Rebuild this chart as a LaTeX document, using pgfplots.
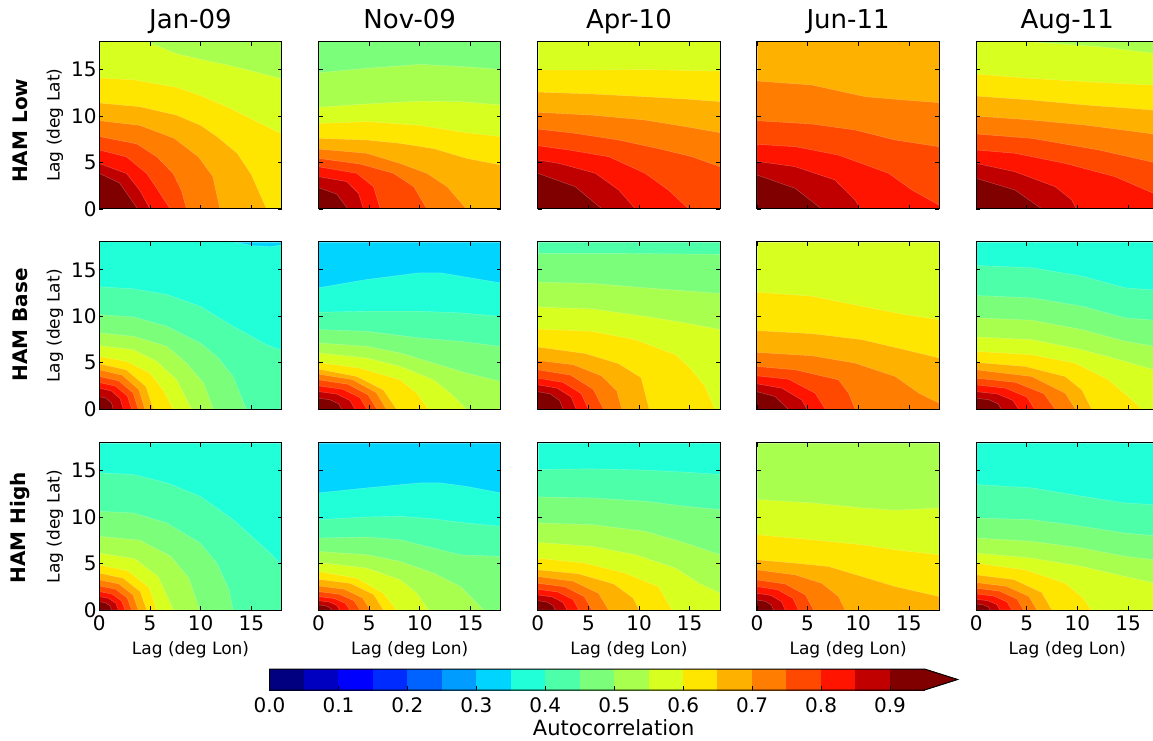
\documentclass[border=0pt]{standalone}
\usepackage{fontspec}
\setmainfont{DejaVu Sans}
\usepackage{pgfplots}
\pgfplotsset{compat=1.18}
\definecolor{c0}{RGB}{0,0,128}
\definecolor{c1}{RGB}{0,0,192}
\definecolor{c2}{RGB}{0,0,255}
\definecolor{c3}{RGB}{0,43,255}
\definecolor{c4}{RGB}{0,99,255}
\definecolor{c5}{RGB}{0,156,255}
\definecolor{c6}{RGB}{0,212,255}
\definecolor{c7}{RGB}{32,255,215}
\definecolor{c8}{RGB}{78,255,169}
\definecolor{c9}{RGB}{123,255,123}
\definecolor{c10}{RGB}{169,255,78}
\definecolor{c11}{RGB}{215,255,32}
\definecolor{c12}{RGB}{255,230,0}
\definecolor{c13}{RGB}{255,177,0}
\definecolor{c14}{RGB}{255,125,0}
\definecolor{c15}{RGB}{255,72,0}
\definecolor{c16}{RGB}{255,20,0}
\definecolor{c17}{RGB}{192,0,0}
\definecolor{c18}{RGB}{128,0,0}
\pgfplotsset{
 panel/.style={scale only axis, width=182.4pt, height=167.3pt, anchor=south west,
   xmin=0,xmax=18,ymin=0,ymax=18, xtick={0,5,10,15}, ytick={0,5,10,15},
   axis on top, tick align=inside, major tick length=4pt,
   axis line style={line width=1pt}, tick style={black,line width=0.8pt},
   tick label style={font=\fontsize{20}{24}\selectfont},
   yticklabel style={inner xsep=2.6pt}, xticklabel style={inner ysep=5.5pt},
   /pgf/number format/assume math mode=true,
   title style={font=\fontsize{26}{31}\selectfont, at={(0.5,1)}, anchor=base, yshift=6.7pt}},
 noxl/.style={xticklabels={}},
 noyl/.style={yticklabels={}},
 band/.style={fill=#1, draw=white, draw opacity=0.3, line width=0.4pt},
}
\newcommand{\bg}[1]{\addplot[band=#1] coordinates {(0,0)(18,0)(18,18)(0,18)} -- cycle;}
\begin{document}
\begin{tikzpicture}[x=1pt,y=1pt]
% ---------------- Row 1: HAM Low ----------------
\begin{axis}[panel, at={(99.3pt,531pt)}, title={Jan-09}, noxl]
\bg{c10}
\addplot[band=c11] coordinates {(0,0)(0,18)(4.7,18)(7.6,16.7)(10,16.1)(12.6,15.5)(15.2,14.8)(18,14.0)(18,0)} -- cycle;
\addplot[band=c12] coordinates {(0,0)(0,14.1)(3.4,13.9)(7.6,13.1)(10,12.2)(12.6,11.0)(15.2,9.6)(18,8.1)(18,0)} -- cycle;
\addplot[band=c13] coordinates {(0,0)(0,11.4)(4,11.0)(7.6,10.1)(10,9.0)(11.6,7.8)(13.6,6.0)(15,3.7)(16.5,0)} -- cycle;
\addplot[band=c14] coordinates {(0,0)(0,9.5)(4,9.0)(7.4,7.6)(9.8,5.6)(11.2,3.5)(11.9,0)} -- cycle;
\addplot[band=c15] coordinates {(0,0)(0,7.8)(3.7,7.0)(5.7,5.6)(7.3,3.8)(8.1,2.0)(8.6,0)} -- cycle;
\addplot[band=c16] coordinates {(0,0)(0,6.35)(2.7,5.6)(4.7,3.8)(5.8,2.0)(7.0,0)} -- cycle;
\addplot[band=c17] coordinates {(0,0)(0,4.9)(2.7,3.8)(4.0,2.0)(5.0,0)} -- cycle;
\addplot[band=c18] coordinates {(0,0)(0,3.84)(2.0,2.8)(3.8,0)} -- cycle;
\end{axis}
\begin{axis}[panel, at={(318.5pt,531pt)}, title={Nov-09}, noxl, noyl]
\bg{c9}
\addplot[band=c10] coordinates {(0,0)(0,14.66)(4.77,15.13)(10,15.56)(14.6,15.3)(18,15.0)(18,0)} -- cycle;
\addplot[band=c11] coordinates {(0,0)(0,10.94)(4.77,11.3)(10,11.6)(14,11.55)(18,11.19)(18,0)} -- cycle;
\addplot[band=c12] coordinates {(0,0)(0,9.2)(4.77,9.4)(10,9.0)(14,8.3)(18,7.78)(18,0)} -- cycle;
\addplot[band=c13] coordinates {(0,0)(0,7.6)(4.77,7.42)(8.06,7.06)(11.35,6.5)(14.6,5.45)(18,4.73)(18,0)} -- cycle;
\addplot[band=c14] coordinates {(0,0)(0,6.45)(4.77,5.99)(8.06,4.9)(10.7,3.84)(12.7,2.4)(14.6,0)} -- cycle;
\addplot[band=c15] coordinates {(0,0)(0,5.45)(4.1,4.84)(7.4,3.84)(9.4,2.4)(10.7,0)} -- cycle;
\addplot[band=c16] coordinates {(0,0)(0,4.55)(3.78,3.84)(5.43,2.4)(6.09,0)} -- cycle;
\addplot[band=c17] coordinates {(0,0)(0,3.48)(2.8,2.94)(3.95,1.69)(4.44,0)} -- cycle;
\addplot[band=c18] coordinates {(0,0)(0,2.3)(1.8,1.6)(2.9,0)} -- cycle;
\end{axis}
\begin{axis}[panel, at={(537.7pt,531pt)}, title={Apr-10}, noxl, noyl]
\bg{c11}
\addplot[band=c12] coordinates {(0,0)(0,14.95)(5.36,14.95)(10.6,15.0)(18,14.84)(18,0)} -- cycle;
\addplot[band=c13] coordinates {(0,0)(0,12.58)(5.36,12.37)(10.6,12.08)(14.6,11.83)(18,11.55)(18,0)} -- cycle;
\addplot[band=c14] coordinates {(0,0)(0,10.4)(5.36,10.1)(10.6,9.57)(14.6,8.86)(18,8.21)(18,0)} -- cycle;
\addplot[band=c15] coordinates {(0,0)(0,8.6)(3.7,8.14)(8.0,7.42)(11.9,6.5)(15.2,5.63)(18,4.55)(18,0)} -- cycle;
\addplot[band=c16] coordinates {(0,0)(0,6.81)(3.06,6.35)(7.0,5.63)(10.6,3.84)(12.9,2.04)(14.9,0)} -- cycle;
\addplot[band=c17] coordinates {(0,0)(0,5.27)(2.07,4.91)(5.7,3.84)(8.0,2.04)(9.64,0)} -- cycle;
\addplot[band=c18] coordinates {(0,0)(0,3.84)(3.7,2.4)(6.35,0)} -- cycle;
\end{axis}
\begin{axis}[panel, at={(756.9pt,531pt)}, title={Jun-11}, noxl, noyl]
\bg{c13}
\addplot[band=c14] coordinates {(0,0)(0,13.77)(5.43,13.34)(10.7,12.08)(14.6,11.72)(18,11.44)(18,0)} -- cycle;
\addplot[band=c15] coordinates {(0,0)(0,9.5)(5.43,9.14)(9.7,8.5)(13.66,7.42)(18,6.7)(18,0)} -- cycle;
\addplot[band=c16] coordinates {(0,0)(0,6.96)(3.8,6.7)(8.06,5.8)(13.0,3.84)(15.3,2.04)(18,0.4)(18,0)} -- cycle;
\addplot[band=c17] coordinates {(0,0)(0,5.13)(3.78,4.55)(7.7,3.12)(9.7,0.97)(10.2,0)} -- cycle;
\addplot[band=c18] coordinates {(0,0)(0,3.66)(3.78,2.22)(6.4,0)} -- cycle;
\end{axis}
\begin{axis}[panel, at={(976.1pt,531pt)}, title={Aug-11}, noxl, noyl]
\bg{c10}
\addplot[band=c11] coordinates {(0,0)(0,18)(5.17,18)(12.1,17.46)(18,16.7)(18,0)} -- cycle;
\addplot[band=c12] coordinates {(0,0)(0,14.52)(5.5,14.05)(10.76,13.7)(18,13.3)(18,0)} -- cycle;
\addplot[band=c13] coordinates {(0,0)(0,12.15)(5.5,11.72)(10.76,11.19)(18,10.6)(18,0)} -- cycle;
\addplot[band=c14] coordinates {(0,0)(0,10.0)(5.5,9.57)(10.76,9.03)(18,8.0)(18,0)} -- cycle;
\addplot[band=c15] coordinates {(0,0)(0,8.07)(5.5,7.6)(12.1,6.35)(18,4.9)(18,0)} -- cycle;
\addplot[band=c16] coordinates {(0,0)(0,6.35)(3.85,5.99)(8.8,4.9)(13.7,3.48)(17.5,1.69)(18,1.5)(18,0)} -- cycle;
\addplot[band=c17] coordinates {(0,0)(0,4.91)(3.85,4.0)(7.8,2.4)(9.44,0.97)(9.9,0)} -- cycle;
\addplot[band=c18] coordinates {(0,0)(0,3.3)(3.85,2.04)(6.5,0)} -- cycle;
\end{axis}
% ---------------- Row 2: HAM Base ----------------
\begin{axis}[panel, at={(99.3pt,330.7pt)}, noxl]
\bg{c6}
\addplot[band=c7] coordinates {(0,0)(0,18)(13.2,18)(15.2,17.6)(17,17.5)(18,17.7)(18,0)} -- cycle;
\addplot[band=c8] coordinates {(0,0)(0,13.18)(3.36,12.96)(6.65,12.35)(9.94,11.09)(13.2,8.93)(16.5,6.95)(18,6.34)(18,0)} -- cycle;
\addplot[band=c9] coordinates {(0,0)(0,10.19)(3.36,9.94)(6.65,8.93)(9.94,7.13)(11.6,5.69)(13.2,3.53)(14.5,0)} -- cycle;
\addplot[band=c10] coordinates {(0,0)(0,8.21)(3.36,7.85)(6.65,6.77)(8.6,4.97)(10.3,2.8)(11.25,0)} -- cycle;
\addplot[band=c11] coordinates {(0,0)(0,6.84)(3.36,6.41)(5.66,5.15)(7.63,3.17)(9.1,0)} -- cycle;
\addplot[band=c12] coordinates {(0,0)(0,5.69)(2.7,5.15)(5.0,3.89)(6.3,2.09)(7.3,0)} -- cycle;
\addplot[band=c13] coordinates {(0,0)(0,4.9)(2.67,4.24)(4.6,2.45)(5.33,0)} -- cycle;
\addplot[band=c14] coordinates {(0,0)(0,4.25)(2.25,3.68)(3.9,2.13)(4.5,0)} -- cycle;
\addplot[band=c15] coordinates {(0,0)(0,3.53)(1.93,3.06)(3.33,1.77)(3.85,0)} -- cycle;
\addplot[band=c16] coordinates {(0,0)(0,2.88)(1.6,2.49)(2.77,1.44)(3.2,0)} -- cycle;
\addplot[band=c17] coordinates {(0,0)(0,2.27)(1.19,1.97)(2.05,1.14)(2.37,0)} -- cycle;
\addplot[band=c18] coordinates {(0,0)(0,1.37)(0.69,1.19)(1.2,0.69)(1.38,0)} -- cycle;
\end{axis}
\begin{axis}[panel, at={(318.5pt,330.7pt)}, noxl, noyl]
\bg{c6}
\addplot[band=c7] coordinates {(0,0)(0,13.07)(4.77,13.97)(10.0,14.69)(12.0,14.69)(18,13.6)(18,0)} -- cycle;
\addplot[band=c8] coordinates {(0,0)(0,10.44)(4.77,10.55)(10.0,10.55)(14.0,10.37)(18,10.0)(18,0)} -- cycle;
\addplot[band=c9] coordinates {(0,0)(0,8.57)(4.77,8.39)(10.0,7.67)(14.0,7.31)(18,6.77)(18,0)} -- cycle;
\addplot[band=c10] coordinates {(0,0)(0,7.13)(4.77,6.77)(8.06,6.05)(11.35,4.97)(14.6,3.89)(18,2.99)(18,0)} -- cycle;
\addplot[band=c11] coordinates {(0,0)(0,6.05)(4.77,5.51)(8.06,4.61)(11.35,3.17)(13.0,1.73)(14.6,0)} -- cycle;
\addplot[band=c12] coordinates {(0,0)(0,5.04)(4.1,4.43)(8.06,3.17)(9.7,1.73)(10.86,0)} -- cycle;
\addplot[band=c13] coordinates {(0,0)(0,4.32)(3.78,3.53)(6.4,2.09)(7.7,0)} -- cycle;
\addplot[band=c14] coordinates {(0,0)(0,3.78)(3.35,3.2)(5.7,1.8)(6.7,0)} -- cycle;
\addplot[band=c15] coordinates {(0,0)(0,3.17)(2.88,2.7)(4.9,1.55)(5.76,0)} -- cycle;
\addplot[band=c16] coordinates {(0,0)(0,2.52)(2.4,2.15)(4.1,1.25)(4.77,0)} -- cycle;
\addplot[band=c17] coordinates {(0,0)(0,1.91)(1.8,1.63)(3.1,0.95)(3.6,0)} -- cycle;
\addplot[band=c18] coordinates {(0,0)(0,1.19)(1.15,1.02)(1.98,0.6)(2.3,0)} -- cycle;
\end{axis}
\begin{axis}[panel, at={(537.7pt,330.7pt)}, noxl, noyl]
\bg{c8}
\addplot[band=c9] coordinates {(0,0)(0,16.77)(8.6,16.77)(18,16.67)(18,0)} -- cycle;
\addplot[band=c10] coordinates {(0,0)(0,13.68)(5.36,13.54)(10.6,13.07)(18,12.46)(18,0)} -- cycle;
\addplot[band=c11] coordinates {(0,0)(0,11.0)(5.36,10.8)(10.6,10.0)(14.6,9.29)(18,8.57)(18,0)} -- cycle;
\addplot[band=c12] coordinates {(0,0)(0,8.64)(5.36,8.39)(9.64,7.49)(13.6,5.87)(15.0,4.5)(16.5,2.5)(17.5,0)} -- cycle;
\addplot[band=c13] coordinates {(0,0)(0,6.7)(4.7,6.0)(8.0,4.9)(10.2,3.4)(11.0,0)} -- cycle;
\addplot[band=c14] coordinates {(0,0)(0,5.26)(3.5,4.8)(6.3,3.6)(7.8,2.0)(8.3,0)} -- cycle;
\addplot[band=c15] coordinates {(0,0)(0,4.25)(3.25,3.68)(5.5,2.13)(6.5,0)} -- cycle;
\addplot[band=c16] coordinates {(0,0)(0,3.35)(2.5,2.9)(4.3,1.68)(5.0,0)} -- cycle;
\addplot[band=c17] coordinates {(0,0)(0,2.63)(1.9,2.28)(3.3,1.32)(3.8,0)} -- cycle;
\addplot[band=c18] coordinates {(0,0)(0,1.9)(1.25,1.65)(2.17,0.95)(2.5,0)} -- cycle;
\end{axis}
\begin{axis}[panel, at={(756.9pt,330.7pt)}, noxl, noyl]
\bg{c11}
\addplot[band=c12] coordinates {(0,0)(0,12.6)(5.43,12.17)(10.37,11.09)(14.6,10.19)(18,9.65)(18,0)} -- cycle;
\addplot[band=c13] coordinates {(0,0)(0,8.46)(5.43,8.14)(10.37,7.49)(14.6,6.41)(18,5.51)(18,0)} -- cycle;
\addplot[band=c14] coordinates {(0,0)(0,6.12)(5.43,5.76)(9.7,4.97)(13.66,3.53)(16.0,1.73)(18,0.65)(18,0)} -- cycle;
\addplot[band=c15] coordinates {(0,0)(0,4.61)(3.78,4.25)(8.06,3.17)(9.05,1.73)(9.7,0)} -- cycle;
\addplot[band=c16] coordinates {(0,0)(0,3.6)(3.12,3.24)(5.76,1.73)(6.75,0)} -- cycle;
\addplot[band=c17] coordinates {(0,0)(0,2.74)(2.47,2.27)(4.44,1.0)(4.94,0)} -- cycle;
\addplot[band=c18] coordinates {(0,0)(0,1.9)(1.8,1.37)(3.1,0)} -- cycle;
\end{axis}
\begin{axis}[panel, at={(976.1pt,330.7pt)}, noxl, noyl]
\bg{c7}
\addplot[band=c8] coordinates {(0,0)(0,15.48)(5.5,15.23)(10.43,14.33)(14.7,13.07)(18,12.8)(18,0)} -- cycle;
\addplot[band=c9] coordinates {(0,0)(0,12.24)(5.5,11.99)(10.43,11.09)(14.7,9.83)(18,9.55)(18,0)} -- cycle;
\addplot[band=c10] coordinates {(0,0)(0,9.83)(5.5,9.58)(10.43,8.57)(14.7,7.31)(18,6.7)(18,0)} -- cycle;
\addplot[band=c11] coordinates {(0,0)(0,7.78)(5.5,7.49)(10.43,6.41)(14.7,5.15)(18,4.1)(18,0)} -- cycle;
\addplot[band=c12] coordinates {(0,0)(0,6.23)(5.5,5.87)(9.77,4.97)(13.06,3.17)(15.4,1.0)(16.35,0)} -- cycle;
\addplot[band=c13] coordinates {(0,0)(0,5.04)(4.84,4.61)(8.79,3.53)(10.43,2.09)(11.4,0)} -- cycle;
\addplot[band=c14] coordinates {(0,0)(0,4.25)(5.5,3.53)(8.8,1.73)(9.8,0)} -- cycle;
\addplot[band=c15] coordinates {(0,0)(0,3.35)(3.9,2.9)(6.7,1.68)(7.8,0)} -- cycle;
\addplot[band=c16] coordinates {(0,0)(0,2.63)(2.9,2.28)(5.0,1.32)(5.8,0)} -- cycle;
\addplot[band=c17] coordinates {(0,0)(0,1.9)(2.1,1.65)(3.64,0.95)(4.2,0)} -- cycle;
\addplot[band=c18] coordinates {(0,0)(0,1.19)(1.25,1.03)(2.17,0.6)(2.5,0)} -- cycle;
\end{axis}
% ---------------- Row 3: HAM High ----------------
\begin{axis}[panel, at={(99.3pt,130pt)}]
\bg{c7}
\addplot[band=c8] coordinates {(0,0)(0,14.76)(3.36,14.58)(6.65,13.68)(9.94,12.24)(13.2,9.72)(16.5,6.48)(18,4.86)(18,0)} -- cycle;
\addplot[band=c9] coordinates {(0,0)(0,10.62)(3.36,10.44)(6.65,9.36)(9.94,7.2)(11.6,5.04)(12.8,2.2)(13.2,0)} -- cycle;
\addplot[band=c10] coordinates {(0,0)(0,7.92)(4,7.5)(7,5.8)(8.8,3.5)(9.9,0)} -- cycle;
\addplot[band=c11] coordinates {(0,0)(0,6.12)(3.5,5.5)(5.8,3.6)(7.3,0)} -- cycle;
\addplot[band=c12] coordinates {(0,0)(0,4.86)(2.83,4.21)(4.9,2.43)(5.66,0)} -- cycle;
\addplot[band=c13] coordinates {(0,0)(0,3.96)(2.34,3.43)(4.04,1.98)(4.67,0)} -- cycle;
\addplot[band=c14] coordinates {(0,0)(0,3.24)(1.93,2.81)(3.33,1.62)(3.85,0)} -- cycle;
\addplot[band=c15] coordinates {(0,0)(0,2.59)(1.6,2.24)(2.76,1.3)(3.19,0)} -- cycle;
\addplot[band=c16] coordinates {(0,0)(0,1.98)(1.27,1.71)(2.19,0.99)(2.53,0)} -- cycle;
\addplot[band=c17] coordinates {(0,0)(0,1.44)(0.94,1.25)(1.63,0.72)(1.88,0)} -- cycle;
\addplot[band=c18] coordinates {(0,0)(0,0.9)(0.61,0.78)(1.06,0.45)(1.22,0)} -- cycle;
\end{axis}
\begin{axis}[panel, at={(318.5pt,130pt)}, noyl]
\bg{c6}
\addplot[band=c7] coordinates {(0,0)(0,12.6)(4.77,13.14)(10.0,13.68)(12.0,13.68)(14.6,13.3)(18,12.6)(18,0)} -- cycle;
\addplot[band=c8] coordinates {(0,0)(0,9.72)(4.77,10.0)(8.06,10.08)(11.35,9.8)(14.6,9.36)(18,9.0)(18,0)} -- cycle;
\addplot[band=c9] coordinates {(0,0)(0,7.74)(4.77,7.85)(8.06,7.56)(11.35,6.66)(14.0,5.94)(18,5.76)(18,0)} -- cycle;
\addplot[band=c10] coordinates {(0,0)(0,6.3)(4.77,5.94)(8.06,5.22)(11.35,3.96)(14.0,2.52)(16.3,0)} -- cycle;
\addplot[band=c11] coordinates {(0,0)(0,5.11)(4.77,4.5)(8.06,3.24)(9.7,1.8)(10.86,0)} -- cycle;
\addplot[band=c12] coordinates {(0,0)(0,4.14)(3.78,3.42)(6.4,1.8)(7.7,0)} -- cycle;
\addplot[band=c13] coordinates {(0,0)(0,3.31)(3.2,2.85)(5.45,1.65)(6.4,0)} -- cycle;
\addplot[band=c14] coordinates {(0,0)(0,2.59)(2.55,2.23)(4.35,1.3)(5.1,0)} -- cycle;
\addplot[band=c15] coordinates {(0,0)(0,1.98)(2.05,1.7)(3.5,1.0)(4.1,0)} -- cycle;
\addplot[band=c16] coordinates {(0,0)(0,1.44)(1.55,1.24)(2.64,0.72)(3.1,0)} -- cycle;
\addplot[band=c17] coordinates {(0,0)(0,1.0)(1.05,0.86)(1.8,0.5)(2.1,0)} -- cycle;
\addplot[band=c18] coordinates {(0,0)(0,0.54)(0.65,0.46)(1.1,0.27)(1.3,0)} -- cycle;
\end{axis}
\begin{axis}[panel, at={(537.7pt,130pt)}, noyl]
\bg{c7}
\addplot[band=c8] coordinates {(0,0)(0,15.12)(5.36,15.19)(10.6,15.05)(14.6,14.83)(18,14.58)(18,0)} -- cycle;
\addplot[band=c9] coordinates {(0,0)(0,12.17)(5.36,12.06)(10.6,11.7)(14.6,11.16)(18,10.8)(18,0)} -- cycle;
\addplot[band=c10] coordinates {(0,0)(0,9.36)(5.36,9.18)(10.6,8.46)(14.6,7.2)(18,5.94)(18,0)} -- cycle;
\addplot[band=c11] coordinates {(0,0)(0,7.27)(5.36,6.84)(9.64,5.94)(13.6,4.5)(15.9,2.88)(18,1.8)(18,0)} -- cycle;
\addplot[band=c12] coordinates {(0,0)(0,5.58)(4.7,5.04)(8.65,3.96)(11.9,2.52)(13.26,0)} -- cycle;
\addplot[band=c13] coordinates {(0,0)(0,4.32)(4,3.9)(7.5,2.8)(9.4,1.3)(10.0,0)} -- cycle;
\addplot[band=c14] coordinates {(0,0)(0,3.6)(3.5,3.1)(6.0,1.8)(7.0,0)} -- cycle;
\addplot[band=c15] coordinates {(0,0)(0,2.88)(2.68,2.5)(4.6,1.44)(5.36,0)} -- cycle;
\addplot[band=c16] coordinates {(0,0)(0,2.23)(2.0,1.93)(3.5,1.12)(4.05,0)} -- cycle;
\addplot[band=c17] coordinates {(0,0)(0,1.62)(1.45,1.4)(2.5,0.81)(2.9,0)} -- cycle;
\addplot[band=c18] coordinates {(0,0)(0,1.0)(0.87,0.87)(1.5,0.5)(1.74,0)} -- cycle;
\end{axis}
\begin{axis}[panel, at={(756.9pt,130pt)}, noyl]
\bg{c10}
\addplot[band=c11] coordinates {(0,0)(0,11.88)(5.43,11.52)(10.37,10.98)(13.66,10.73)(18,10.98)(18,0)} -- cycle;
\addplot[band=c12] coordinates {(0,0)(0,8.1)(5.43,7.56)(10.37,7.02)(13.66,6.48)(18,5.94)(18,0)} -- cycle;
\addplot[band=c13] coordinates {(0,0)(0,5.4)(3.78,5.04)(7.07,4.68)(10.37,3.6)(13.66,2.52)(18,1.44)(18,0)} -- cycle;
\addplot[band=c14] coordinates {(0,0)(0,4.32)(3.78,3.78)(6.4,2.88)(8.06,1.44)(8.7,0)} -- cycle;
\addplot[band=c15] coordinates {(0,0)(0,3.24)(2.8,2.8)(4.8,1.62)(5.6,0)} -- cycle;
\addplot[band=c16] coordinates {(0,0)(0,2.52)(2.05,2.18)(3.55,1.26)(4.1,0)} -- cycle;
\addplot[band=c17] coordinates {(0,0)(0,1.8)(1.4,1.56)(2.42,0.9)(2.8,0)} -- cycle;
\addplot[band=c18] coordinates {(0,0)(0,1.08)(0.82,0.94)(1.43,0.54)(1.65,0)} -- cycle;
\end{axis}
\begin{axis}[panel, at={(976.1pt,130pt)}, noyl]
\bg{c7}
\addplot[band=c8] coordinates {(0,0)(0,13.5)(5.5,13.14)(10.43,12.24)(14.7,11.52)(18,11.3)(18,0)} -- cycle;
\addplot[band=c9] coordinates {(0,0)(0,9.9)(5.5,9.72)(10.43,9.0)(14.7,8.28)(18,7.95)(18,0)} -- cycle;
\addplot[band=c10] coordinates {(0,0)(0,7.74)(5.5,7.38)(10.43,6.66)(14.7,5.76)(18,5.35)(18,0)} -- cycle;
\addplot[band=c11] coordinates {(0,0)(0,6.12)(5.5,5.58)(10.43,4.68)(14.7,3.6)(18,2.8)(18,0)} -- cycle;
\addplot[band=c12] coordinates {(0,0)(0,5.04)(4.84,4.32)(8.79,2.88)(10.43,1.44)(11.4,0)} -- cycle;
\addplot[band=c13] coordinates {(0,0)(0,3.78)(3.73,3.27)(6.47,1.89)(7.47,0)} -- cycle;
\addplot[band=c14] coordinates {(0,0)(0,2.95)(3.0,2.55)(5.2,1.48)(6.0,0)} -- cycle;
\addplot[band=c15] coordinates {(0,0)(0,2.34)(2.33,2.03)(4.04,1.17)(4.67,0)} -- cycle;
\addplot[band=c16] coordinates {(0,0)(0,1.73)(1.76,1.5)(3.05,0.87)(3.52,0)} -- cycle;
\addplot[band=c17] coordinates {(0,0)(0,1.15)(1.18,1.0)(2.05,0.58)(2.37,0)} -- cycle;
\addplot[band=c18] coordinates {(0,0)(0,0.65)(0.69,0.56)(1.2,0.33)(1.38,0)} -- cycle;
\end{axis}
% ---------------- Colorbar ----------------
\begin{axis}[at={(269.5pt,50pt)}, anchor=south west, scale only axis, width=655pt, height=21pt,
  xmin=0, xmax=0.95, ymin=0, ymax=1, clip=false, axis on top,
  axis line style={draw=none}, ytick=\empty,
  xtick={0,0.1,0.2,0.3,0.4,0.5,0.6,0.7,0.8,0.9},
  xticklabels={0.0,0.1,0.2,0.3,0.4,0.5,0.6,0.7,0.8,0.9},
  xtick pos=left, tick align=inside, major tick length=4pt, tick style={black,line width=0.8pt},
  tick label style={font=\fontsize{20}{24}\selectfont}, xticklabel style={inner ysep=7pt}]
\addplot[fill=c0,draw=c0,line width=0.4pt] coordinates {(0,0)(0.05,0)(0.05,1)(0,1)} -- cycle;
\addplot[fill=c1,draw=c1,line width=0.4pt] coordinates {(0.05,0)(0.10,0)(0.10,1)(0.05,1)} -- cycle;
\addplot[fill=c2,draw=c2,line width=0.4pt] coordinates {(0.10,0)(0.15,0)(0.15,1)(0.10,1)} -- cycle;
\addplot[fill=c3,draw=c3,line width=0.4pt] coordinates {(0.15,0)(0.20,0)(0.20,1)(0.15,1)} -- cycle;
\addplot[fill=c4,draw=c4,line width=0.4pt] coordinates {(0.20,0)(0.25,0)(0.25,1)(0.20,1)} -- cycle;
\addplot[fill=c5,draw=c5,line width=0.4pt] coordinates {(0.25,0)(0.30,0)(0.30,1)(0.25,1)} -- cycle;
\addplot[fill=c6,draw=c6,line width=0.4pt] coordinates {(0.30,0)(0.35,0)(0.35,1)(0.30,1)} -- cycle;
\addplot[fill=c7,draw=c7,line width=0.4pt] coordinates {(0.35,0)(0.40,0)(0.40,1)(0.35,1)} -- cycle;
\addplot[fill=c8,draw=c8,line width=0.4pt] coordinates {(0.40,0)(0.45,0)(0.45,1)(0.40,1)} -- cycle;
\addplot[fill=c9,draw=c9,line width=0.4pt] coordinates {(0.45,0)(0.50,0)(0.50,1)(0.45,1)} -- cycle;
\addplot[fill=c10,draw=c10,line width=0.4pt] coordinates {(0.50,0)(0.55,0)(0.55,1)(0.50,1)} -- cycle;
\addplot[fill=c11,draw=c11,line width=0.4pt] coordinates {(0.55,0)(0.60,0)(0.60,1)(0.55,1)} -- cycle;
\addplot[fill=c12,draw=c12,line width=0.4pt] coordinates {(0.60,0)(0.65,0)(0.65,1)(0.60,1)} -- cycle;
\addplot[fill=c13,draw=c13,line width=0.4pt] coordinates {(0.65,0)(0.70,0)(0.70,1)(0.65,1)} -- cycle;
\addplot[fill=c14,draw=c14,line width=0.4pt] coordinates {(0.70,0)(0.75,0)(0.75,1)(0.70,1)} -- cycle;
\addplot[fill=c15,draw=c15,line width=0.4pt] coordinates {(0.75,0)(0.80,0)(0.80,1)(0.75,1)} -- cycle;
\addplot[fill=c16,draw=c16,line width=0.4pt] coordinates {(0.80,0)(0.85,0)(0.85,1)(0.80,1)} -- cycle;
\addplot[fill=c17,draw=c17,line width=0.4pt] coordinates {(0.85,0)(0.90,0)(0.90,1)(0.85,1)} -- cycle;
\addplot[fill=c18,draw=c18,line width=0.4pt] coordinates {(0.90,0)(0.95,0)(0.95,1)(0.90,1)} -- cycle;
\addplot[fill=c18,draw=c18,line width=0.4pt] coordinates {(0.95,0)(0.998,0.5)(0.95,1)} -- cycle;
\addplot[draw=black,line width=1pt] coordinates {(0,0)(0.95,0)(0.998,0.5)(0.95,1)(0,1)} -- cycle;
\end{axis}
% ---------------- Labels ----------------
\node[rotate=90, font=\bfseries\fontsize{20}{24}\selectfont] at (20.5,609.2) {HAM Low};
\node[rotate=90, font=\bfseries\fontsize{20}{24}\selectfont] at (20.5,415) {HAM Base};
\node[rotate=90, font=\bfseries\fontsize{20}{24}\selectfont] at (20.5,212) {HAM High};
\node[rotate=90, font=\fontsize{17}{20}\selectfont] at (55,614.7) {Lag (deg Lat)};
\node[rotate=90, font=\fontsize{17}{20}\selectfont] at (55,414) {Lag (deg Lat)};
\node[rotate=90, font=\fontsize{17}{20}\selectfont] at (55,213.3) {Lag (deg Lat)};
\node[anchor=base, font=\fontsize{17}{20}\selectfont] at (190.5,85.7) {Lag (deg Lon)};
\node[anchor=base, font=\fontsize{17}{20}\selectfont] at (409.7,85.7) {Lag (deg Lon)};
\node[anchor=base, font=\fontsize{17}{20}\selectfont] at (628.9,85.7) {Lag (deg Lon)};
\node[anchor=base, font=\fontsize{17}{20}\selectfont] at (848.1,85.7) {Lag (deg Lon)};
\node[anchor=base, font=\fontsize{17}{20}\selectfont] at (1067.3,85.7) {Lag (deg Lon)};
\node[anchor=base, font=\fontsize{21}{25}\selectfont] at (613.6,5) {Autocorrelation};
\pgfresetboundingbox
\useasboundingbox (0,0) rectangle (1153,740);
\end{tikzpicture}
\end{document}
